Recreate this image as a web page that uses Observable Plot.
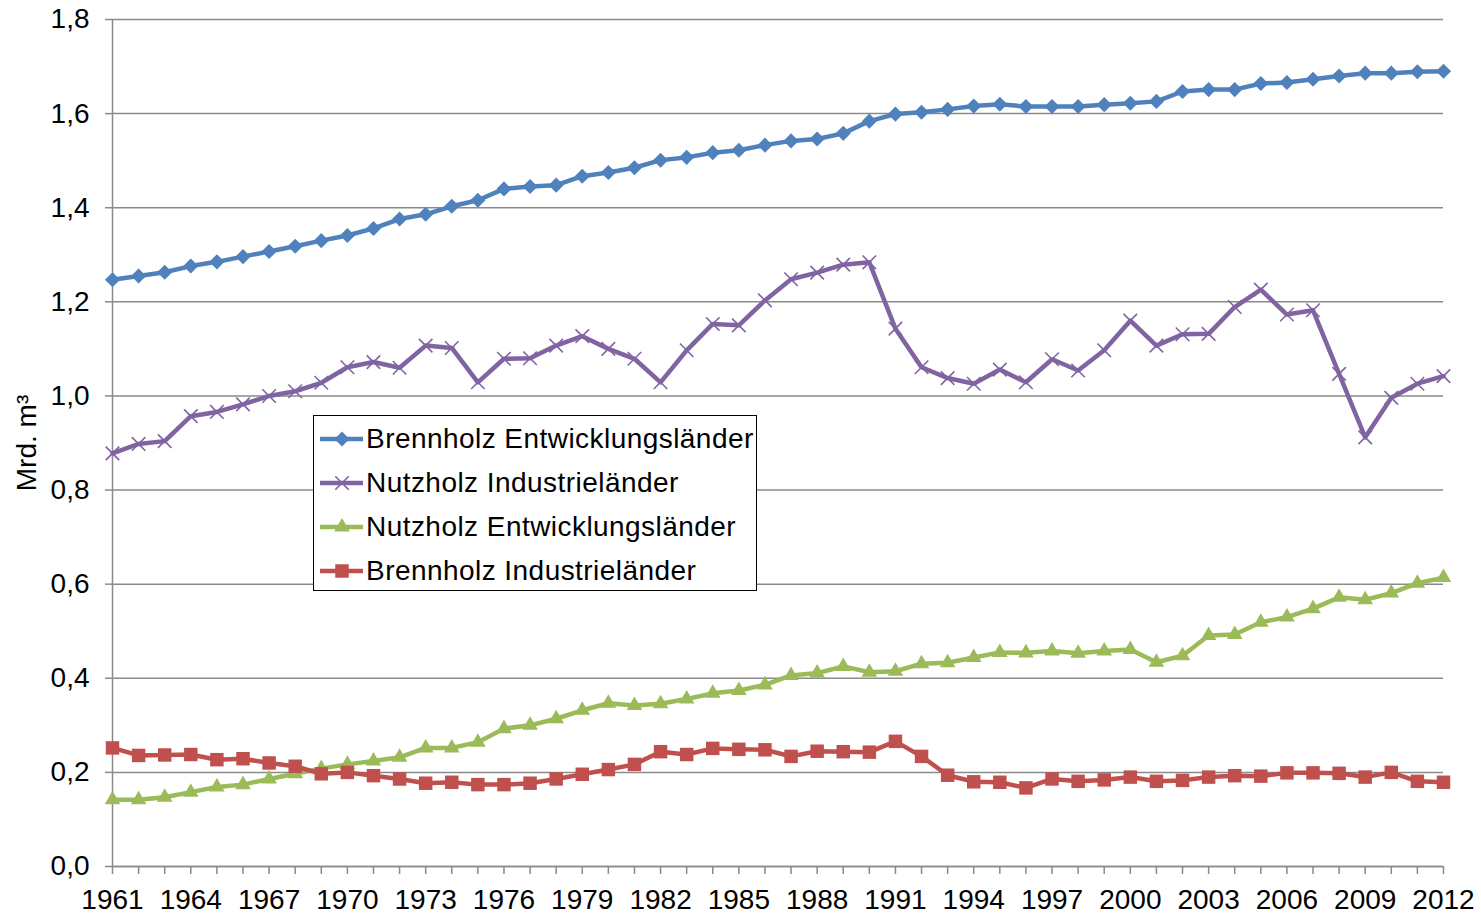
<!DOCTYPE html>
<html><head><meta charset="utf-8">
<script src="https://cdn.jsdelivr.net/npm/d3@7"></script>
<script src="https://cdn.jsdelivr.net/npm/@observablehq/plot@0.6"></script>
<style>
body{margin:0;background:#fff;}
#wrap{position:relative;width:1481px;height:916px;font-family:"Liberation Sans",Arial,sans-serif;}
#legend{position:absolute;left:313px;top:415px;width:442px;height:173px;border:1px solid #000;background:#fff;padding-top:1px;box-sizing:content-box;}
.row{display:flex;align-items:center;height:44px;font-size:28px;letter-spacing:0.45px;color:#000;white-space:nowrap;}
.row svg{flex:none;}
</style></head>
<body><div id="wrap"></div>
<script>
const years = [1961,1962,1963,1964,1965,1966,1967,1968,1969,1970,1971,1972,1973,1974,1975,1976,1977,1978,1979,1980,1981,1982,1983,1984,1985,1986,1987,1988,1989,1990,1991,1992,1993,1994,1995,1996,1997,1998,1999,2000,2001,2002,2003,2004,2005,2006,2007,2008,2009,2010,2011,2012];
const labelYears = [1961,1964,1967,1970,1973,1976,1979,1982,1985,1988,1991,1994,1997,2000,2003,2006,2009,2012];
const yTicks = [0,0.2,0.4,0.6,0.8,1.0,1.2,1.4,1.6,1.8];

const seriesNames = ["Brennholz Entwicklungsländer","Nutzholz Industrieländer","Nutzholz Entwicklungsländer","Brennholz Industrieländer"];

const brennholzEntw = [1.247,1.255,1.263,1.276,1.285,1.296,1.307,1.318,1.330,1.341,1.356,1.376,1.386,1.403,1.416,1.440,1.445,1.448,1.467,1.475,1.485,1.501,1.507,1.517,1.522,1.533,1.542,1.546,1.558,1.584,1.599,1.603,1.609,1.616,1.620,1.615,1.615,1.615,1.619,1.622,1.626,1.647,1.651,1.651,1.664,1.666,1.673,1.680,1.686,1.686,1.689,1.690];
const nutzholzInd = [0.878,0.898,0.904,0.957,0.966,0.982,1.000,1.010,1.028,1.061,1.072,1.060,1.107,1.102,1.029,1.079,1.080,1.107,1.127,1.100,1.079,1.029,1.097,1.153,1.150,1.203,1.248,1.262,1.279,1.284,1.143,1.061,1.038,1.026,1.056,1.029,1.078,1.054,1.097,1.160,1.107,1.131,1.132,1.189,1.226,1.173,1.182,1.047,0.912,0.996,1.026,1.042];
const nutzholzEntw = [0.142,0.142,0.147,0.158,0.169,0.174,0.186,0.197,0.208,0.217,0.224,0.232,0.252,0.252,0.264,0.293,0.300,0.314,0.332,0.347,0.342,0.346,0.356,0.368,0.374,0.386,0.406,0.411,0.425,0.413,0.415,0.431,0.433,0.444,0.455,0.454,0.458,0.453,0.458,0.461,0.434,0.448,0.491,0.493,0.519,0.530,0.548,0.572,0.567,0.581,0.602,0.614];
const brennholzInd = [0.252,0.236,0.237,0.238,0.227,0.229,0.220,0.213,0.197,0.200,0.193,0.186,0.177,0.179,0.174,0.174,0.177,0.186,0.196,0.206,0.217,0.244,0.238,0.251,0.249,0.248,0.234,0.245,0.244,0.243,0.266,0.234,0.194,0.180,0.179,0.167,0.186,0.181,0.184,0.190,0.181,0.183,0.190,0.193,0.192,0.199,0.199,0.198,0.190,0.200,0.181,0.179];

const seriesValues = [brennholzEntw, nutzholzInd, nutzholzEntw, brennholzInd];
const seriesColors = ["#4F81BD","#8064A2","#9BBB59","#C0504D"];
const seriesSymbols = ["diamond2","times","triangle","square"];
const seriesR = [6.8,6.2,5.8,7.6];

const gray = "#8a8a8a";

const tables = seriesValues.map((vals, i) => years.map((yr, j) => ({year: yr, value: vals[j], series: seriesNames[i]})));

const marks = [
  Plot.gridY(yTicks, {stroke: gray, strokeOpacity: 1, strokeWidth: 1.5}),
  Plot.axisY({ticks: yTicks, tickFormat: d => d.toFixed(1).replace(".", ","), tickSize: 7, tickPadding: 16, stroke: gray, strokeWidth: 1.5, fill: "#000", fontSize: 28,
    label: "Mrd. m³", labelAnchor: "center", labelOffset: 96, labelArrow: "none"}),
  Plot.axisX({ticks: years, tickFormat: d => labelYears.includes(d) ? String(d) : "", tickSize: 8, tickPadding: 15, stroke: gray, strokeWidth: 1.5, fill: "#000", fontSize: 28, label: null}),
  Plot.ruleX([1961], {stroke: gray, strokeWidth: 1.5}),
  Plot.ruleY([0], {stroke: gray, strokeWidth: 1.5})
];
tables.forEach((t, i) => {
  marks.push(Plot.line(t, {x: "year", y: "value", stroke: seriesColors[i], strokeWidth: 4.5, strokeLinejoin: "round"}));
  if (seriesSymbols[i] === "times") {
    marks.push(Plot.dot(t, {x: "year", y: "value", symbol: () => "times", r: seriesR[i], stroke: seriesColors[i], strokeWidth: 1.6, fill: "none"}));
  } else {
    marks.push(Plot.dot(t, {x: "year", y: "value", symbol: () => seriesSymbols[i], r: seriesR[i], fill: seriesColors[i], stroke: "none"}));
  }
});

const chart = Plot.plot({
  width: 1481, height: 916,
  marginLeft: 112, marginRight: 38, marginTop: 19, marginBottom: 50,
  style: {fontFamily: "'Liberation Sans', Arial, sans-serif", fontSize: "28px", background: "#fff", overflow: "visible"},
  x: {domain: [1961, 2012]},
  y: {domain: [0, 1.8]},
  symbol: {type: "identity"},
  marks
});
const wrap = document.getElementById("wrap");
wrap.appendChild(chart);

// legend
const legend = document.createElement("div");
legend.id = "legend";
const symMap = {diamond2: d3.symbolDiamond2, times: d3.symbolTimes, triangle: d3.symbolTriangle, square: d3.symbolSquare};
seriesNames.forEach((name, i) => {
  const row = document.createElement("div");
  row.className = "row";
  const svg = d3.create("svg").attr("width", 52).attr("height", 44);
  svg.append("line").attr("x1", 6).attr("x2", 49).attr("y1", 22).attr("y2", 22).attr("stroke", seriesColors[i]).attr("stroke-width", 4.5);
  const size = Math.PI * seriesR[i] * seriesR[i];
  const p = svg.append("path").attr("d", d3.symbol(symMap[seriesSymbols[i]], size)()).attr("transform", "translate(28,22)");
  if (seriesSymbols[i] === "times") p.attr("fill", "none").attr("stroke", seriesColors[i]).attr("stroke-width", 1.6);
  else p.attr("fill", seriesColors[i]);
  row.appendChild(svg.node());
  const span = document.createElement("span");
  span.textContent = name;
  row.appendChild(span);
  legend.appendChild(row);
});
wrap.appendChild(legend);
</script>
</body></html>
